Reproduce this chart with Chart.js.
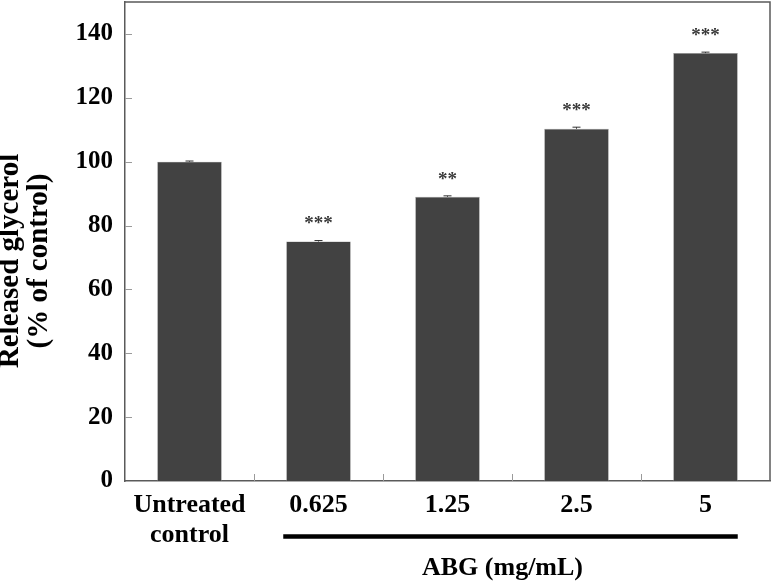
<!DOCTYPE html>
<html>
<head>
<meta charset="utf-8">
<script src="https://cdn.jsdelivr.net/npm/chart.js@4.4.1/dist/chart.umd.min.js"></script>
<style>
  html, body { margin: 0; padding: 0; background: #ffffff; }
  #wrap { width: 774px; height: 585px; position: relative; }
</style>
</head>
<body>
<div id="wrap"><canvas id="c" width="774" height="585"></canvas></div>
<script>
// ---- data ----
const categories = [['Untreated', 'control'], '0.625', '1.25', '2.5', '5'];
const glycerolValues = [100, 75, 89, 110.3, 134];
const glycerolSD = [0.2, 0.3, 0.3, 0.5, 0.3];
const significance = ['', '***', '**', '***', '***'];
const yTicks = [0, 20, 40, 60, 80, 100, 120, 140];
const yTitleLines = ['Released glycerol', '(% of control)'];
const groupTitle = 'ABG (mg/mL)';
const groupFirst = 1, groupLast = 4;

const SERIF = '"Liberation Serif", "Times New Roman", serif';
const BAR_COLOR = '#424242';

const decorations = {
  id: 'decorations',
  afterDatasetsDraw(chart) {
    const ctx = chart.ctx;
    const meta = chart.getDatasetMeta(0);
    const y = chart.scales.y;
    ctx.save();
    // error bars (very small SD)
    ctx.strokeStyle = '#333';
    ctx.lineWidth = 1;
    meta.data.forEach((bar, i) => {
      const top = y.getPixelForValue(glycerolValues[i] + glycerolSD[i]);
      const bot = y.getPixelForValue(glycerolValues[i]);
      ctx.beginPath();
      ctx.moveTo(bar.x, top); ctx.lineTo(bar.x, bot);
      ctx.moveTo(bar.x - 4, top); ctx.lineTo(bar.x + 4, top);
      ctx.stroke();
    });
    // significance stars
    ctx.fillStyle = '#3a3a3a';
    ctx.font = 'bold 19px ' + SERIF;
    ctx.textAlign = 'center';
    ctx.textBaseline = 'middle';
    meta.data.forEach((bar, i) => {
      if (!significance[i]) return;
      const top = y.getPixelForValue(glycerolValues[i] + glycerolSD[i]);
      ctx.fillText(significance[i], bar.x, top - 16);
    });
    ctx.restore();
  },
  afterDraw(chart) {
    const ctx = chart.ctx;
    const a = chart.chartArea;
    const x = chart.scales.x;
    const y = chart.scales.y;
    const meta = chart.getDatasetMeta(0);
    ctx.save();
    // inward tick marks
    ctx.strokeStyle = '#9a9a9a';
    ctx.lineWidth = 1;
    yTicks.forEach(v => {
      if (v === 0) return;
      const py = Math.round(y.getPixelForValue(v)) + 0.5;
      ctx.beginPath(); ctx.moveTo(a.left, py); ctx.lineTo(a.left + 7, py); ctx.stroke();
    });
    for (let i = 0; i < categories.length - 1; i++) {
      const px = Math.round((x.getPixelForValue(i) + x.getPixelForValue(i + 1)) / 2) + 0.5;
      ctx.beginPath(); ctx.moveTo(px, a.bottom); ctx.lineTo(px, a.bottom - 7); ctx.stroke();
    }
    // frame (top + right)
    ctx.strokeStyle = '#5a5a5a';
    ctx.lineWidth = 1.5;
    ctx.beginPath();
    ctx.moveTo(a.left, a.top); ctx.lineTo(a.right, a.top); ctx.lineTo(a.right, a.bottom);
    ctx.stroke();
    // group bracket line
    const b1 = meta.data[groupFirst], b4 = meta.data[groupLast];
    const lx1 = b1.x - b1.width / 2 - 3, lx2 = b4.x + b4.width / 2;
    ctx.strokeStyle = '#000';
    ctx.lineWidth = 4.5;
    ctx.beginPath(); ctx.moveTo(lx1, 536.5); ctx.lineTo(lx2, 536.5); ctx.stroke();
    // group title
    ctx.fillStyle = '#000';
    ctx.font = 'bold 26px ' + SERIF;
    ctx.textAlign = 'center';
    ctx.textBaseline = 'middle';
    ctx.fillText(groupTitle, (lx1 + lx2) / 2 - 8, 568);
    // y title
    ctx.font = 'bold 29px ' + SERIF;
    ctx.textBaseline = 'alphabetic';
    const baselines = [18, 47];
    yTitleLines.forEach((t, i) => {
      ctx.save();
      ctx.translate(baselines[i], 261);
      ctx.rotate(-Math.PI / 2);
      ctx.fillText(t, 0, 0);
      ctx.restore();
    });
    ctx.restore();
  }
};

new Chart(document.getElementById('c'), {
  type: 'bar',
  data: {
    labels: categories,
    datasets: [{
      data: glycerolValues,
      backgroundColor: BAR_COLOR,
      borderColor: '#8a8a8a',
      borderWidth: 0.6,
      barPercentage: 0.5,
      categoryPercentage: 1.0
    }]
  },
  options: {
    responsive: false,
    animation: false,
    events: [],
    layout: { padding: { top: 2, right: 4, left: 0, bottom: 0 } },
    plugins: { legend: { display: false }, tooltip: { enabled: false }, title: { display: false } },
    scales: {
      x: {
        offset: true,
        grid: { display: false, drawTicks: false },
        border: { display: true, color: '#5a5a5a', width: 1.5 },
        ticks: {
          color: '#000',
          font: { family: SERIF, size: 26, weight: 'bold', lineHeight: 1.15 },
          padding: 9,
          maxRotation: 0,
          autoSkip: false
        },
        afterFit(scale) {
          scale.height = 104;
          scale.paddingLeft = 0; scale.paddingRight = 0;
        }
      },
      y: {
        min: 0,
        max: 150,
        grid: { display: false, drawTicks: false },
        border: { display: true, color: '#5a5a5a', width: 1.5 },
        ticks: {
          color: '#000',
          font: { family: SERIF, size: 25, weight: 'bold' },
          padding: 12
        },
        afterBuildTicks(scale) { scale.ticks = yTicks.map(v => ({ value: v })); },
        afterFit(scale) {
          scale.width = 125;
          scale.paddingTop = 0; scale.paddingBottom = 0;
        }
      }
    }
  },
  plugins: [decorations]
});
</script>
</body>
</html>
